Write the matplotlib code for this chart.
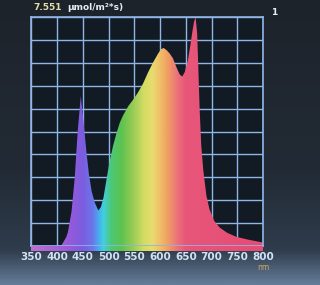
#import libraries
import numpy as np
import matplotlib
matplotlib.use('Agg')
import matplotlib.pyplot as plt
from matplotlib.colors import LinearSegmentedColormap

#spectrum (relative units, peak = 1)
wavelength = [380, 400, 409, 413, 418, 421, 428, 434, 440, 446, 451, 457, 462, 467, 473,
              480, 485, 490, 496, 502, 509, 515, 522, 528, 538, 548, 557, 567, 577, 586,
              596, 602, 607, 613, 619, 625, 632, 638, 643, 648, 654, 659, 663, 666, 669,
              672, 674, 677, 680, 684, 690, 696, 705, 716, 730, 748, 770, 800]
intensity = [0.0, 0.0, 0.005, 0.02, 0.04, 0.06, 0.15, 0.29, 0.50, 0.655, 0.55, 0.41, 0.31, 0.24, 0.19,
             0.155, 0.17, 0.21, 0.29, 0.37, 0.44, 0.49, 0.54, 0.57, 0.61, 0.64, 0.67, 0.71, 0.76, 0.80,
             0.84, 0.86, 0.865, 0.855, 0.84, 0.82, 0.78, 0.75, 0.74, 0.76, 0.81, 0.88, 0.94, 0.98, 1.0,
             0.93, 0.80, 0.59, 0.44, 0.33, 0.22, 0.16, 0.11, 0.08, 0.058, 0.04, 0.028, 0.015]

x_ticks = [350, 400, 450, 500, 550, 600, 650, 700, 750, 800]
top_value = '7.551'
unit_label = 'μmol/m²*s)'

#wavelength -> colour stops
stops = [(350, '#c070d0'), (420, '#9a5ad8'), (450, '#7b5ce0'), (470, '#6a78ea'),
         (480, '#4aa8f0'), (490, '#40d0e0'), (505, '#4cc878'), (525, '#5cc250'),
         (548, '#98cc55'), (568, '#d0dc62'), (585, '#e8dc70'), (600, '#f0c068'),
         (615, '#f0a062'), (632, '#ec7878'), (650, '#e8567a'), (800, '#e64c74')]
cmap = LinearSegmentedColormap.from_list(
    'spec', [((w - 350) / 450, c) for w, c in stops])

fig = plt.figure(figsize=(3.2, 2.85), dpi=100)

#photo-like background, dark at top, lighter blue-grey at bottom
bg = fig.add_axes([0, 0, 1, 1])
bg_cmap = LinearSegmentedColormap.from_list(
    'bg', [(0, '#1d232b'), (0.6, '#222b35'), (0.88, '#2f3c4c'), (1, '#647c98')])
bg.imshow(np.linspace(0, 1, 200).reshape(-1, 1), aspect='auto', cmap=bg_cmap,
          extent=[0, 1, 0, 1], origin='upper')
bg.set_axis_off()

ax = fig.add_axes([0.098, 0.137, 0.724, 0.803])
ax.set_facecolor('#121a24')
ax.set_xlim(350, 800)
ax.set_ylim(0, 1)

#rainbow fill clipped by the curve
grad = ax.imshow(np.linspace(0, 1, 450).reshape(1, -1), aspect='auto', cmap=cmap,
                 extent=[350, 800, 0, 1], zorder=2)
poly = ax.fill_between(wavelength, intensity, 0, color='none', zorder=2)
grad.set_clip_path(poly.get_paths()[0], transform=ax.transData)

grid_col = '#8fb6e6'
ax.set_xticks(x_ticks)
ax.set_yticks(np.arange(0, 1.01, 0.1))
ax.grid(True, color=grid_col, lw=1.0, zorder=1)
ax.set_axisbelow(True)
for s in ax.spines.values():
    s.set_color(grid_col)
    s.set_linewidth(1.2)
ax.tick_params(axis='y', left=False, labelleft=False)
ax.tick_params(axis='x', colors='#9ec0e8', length=0, pad=4, labelsize=7.5)
for lab in ax.get_xticklabels():
    lab.set_color('#d0e2f4')
    lab.set_fontweight('bold')

#colour strip under the plot
strip = fig.add_axes([0.098, 0.118, 0.724, 0.018])
strip.imshow(np.linspace(0, 1, 450).reshape(1, -1), aspect='auto', cmap=cmap,
             extent=[350, 800, 0, 1])
strip.set_axis_off()

fig.text(0.103, 0.972, top_value, color='#e6dfa8', fontsize=6.5, fontweight='bold', va='center')
fig.text(0.21, 0.972, unit_label, color='#e4ecf4', fontsize=6.5, fontweight='bold', va='center')
fig.text(0.848, 0.955, '1', color='#e4ecf4', fontsize=6.5, fontweight='bold', va='center')
fig.text(0.822, 0.062, 'nm', color='#d8a860', fontsize=5.5, ha='center', va='center')

fig.savefig('out.png', dpi=100)
